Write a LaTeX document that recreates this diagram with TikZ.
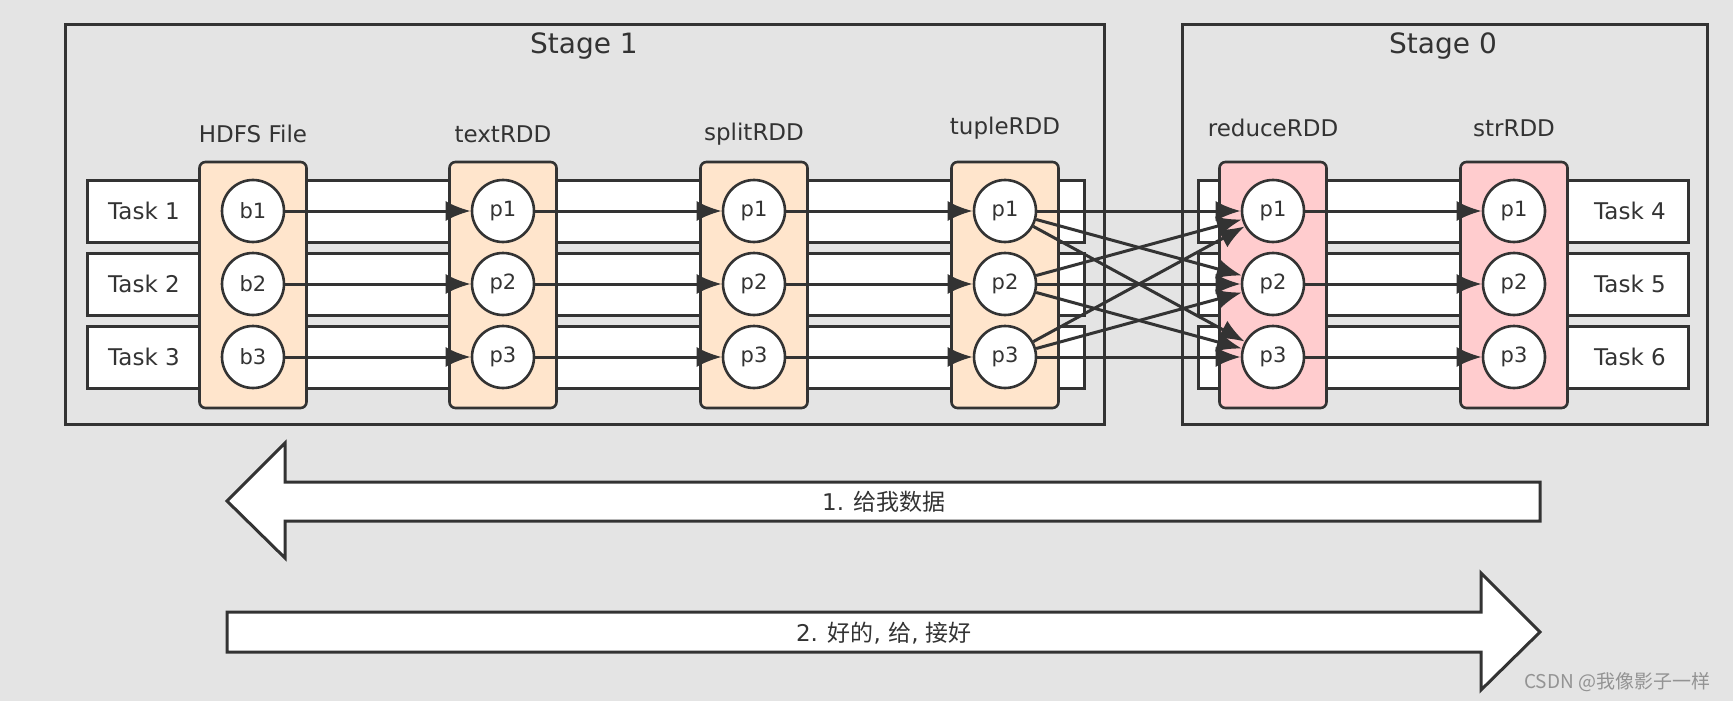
\documentclass[tikz,border=0pt]{standalone}
\usepackage{fontspec}
\setmainfont{DejaVu Sans}
\newfontfamily\cjk{Noto Sans CJK SC}
\usetikzlibrary{arrows.meta}
\definecolor{hinter}{RGB}{228,228,228}
\definecolor{rand}{RGB}{51,51,51}
\definecolor{pfirsich}{RGB}{255,229,204}
\definecolor{rosa}{RGB}{255,204,206}
\colorlet{zeichen}{gray!85}

\begin{document}
\begin{tikzpicture}[x=0.5pt, y=-0.5pt, rand, line width=1.3pt,
	stagebox/.style={draw=rand, line width=1.5pt},
	taskbar/.style={draw=rand, fill=white, line width=1.5pt},
	rddbox/.style={draw=rand, rounded corners=3pt, minimum width=53.5pt, minimum height=123pt, inner sep=0pt},
	part/.style={circle, draw=rand, fill=white, minimum size=31pt, inner sep=0pt, font=\fontsize{10.5}{12}\selectfont},
	titel/.style={font=\fontsize{11.5}{14}\selectfont},
	flow/.style={-{Latex[length=12.5pt,width=10pt]}, line width=1.5pt},
	bigarrow/.style={draw=rand, fill=white, line width=1.5pt, line join=miter}]

	\fill[hinter] (0,0) rectangle (1733,701);
	\useasboundingbox (0,0) rectangle (1733,701);

	% stages
	\draw[stagebox] (65,25) rectangle (1104,424);
	\draw[stagebox] (1182,25) rectangle (1707,424);
	\node[font=\fontsize{14}{17}\selectfont] (stage1) at (584,46) {Stage 1};
	\node[font=\fontsize{14}{17}\selectfont] (stage0) at (1443,46) {Stage 0};

	% tasks
	\foreach \i/\y in {1/211, 2/284, 3/357} {
		\draw[taskbar] (87,\y-31) rectangle (1084,\y+31);
		\draw[taskbar] (1198,\y-31) rectangle (1688,\y+31);
		\node[titel] (task\i) at (144,\y) {Task \i};
	}
	\foreach \i/\y in {4/211, 5/284, 6/357}
		\node[titel] (task\i) at (1630,\y) {Task \i};

	% rdds
	\foreach \n/\x/\c/\l in {hdfs/253/pfirsich/b, text/503/pfirsich/p, split/754/pfirsich/p, tuple/1005/pfirsich/p, reduce/1273/rosa/p, str/1514/rosa/p} {
		\node[rddbox, fill=\c] (\n) at (\x,285) {};
		\foreach \i/\y in {1/211, 2/284, 3/357}
			\node[part] (\n\i) at (\x,\y) {\l\i};
	}
	\foreach \n/\x/\y/\t in {hdfs/253/134/HDFS File, text/503/134/textRDD, split/754/134/splitRDD, tuple/1005/128/tupleRDD, reduce/1273/128/reduceRDD, str/1514/128/strRDD}
		\node[titel] (\n-titel) at (\x,\y) {\t};

	\foreach \a/\b in {hdfs/text, text/split, split/tuple, reduce/str}
		\foreach \i in {1,2,3}
			\draw[flow] (\a\i) -- (\b\i);
	% shuffle
	\foreach \i in {1,2,3}
		\foreach \j in {1,2,3}
			\draw[flow] (tuple\i) -- (reduce\j);

	% requests
	\draw[bigarrow] (227,501) -- (285,443) -- (285,482) -- (1540,482) -- (1540,521) -- (285,521) -- (285,558) -- cycle;
	\node[titel] (frage) at (884,502) {1. {\cjk 给我数据}};
	\draw[bigarrow] (227,612) -- (1481,612) -- (1481,573) -- (1540,632) -- (1481,690) -- (1481,652) -- (227,652) -- cycle;
	\node[titel] (antwort) at (884,633) {2. {\cjk 好的}, {\cjk 给}, {\cjk 接好}};

	\node[font=\cjk\fontsize{9.5}{11}\selectfont, text=zeichen, anchor=east] (wasserzeichen) at (1718,682) {CSDN @我像影子一样};

\end{tikzpicture}
\end{document}
